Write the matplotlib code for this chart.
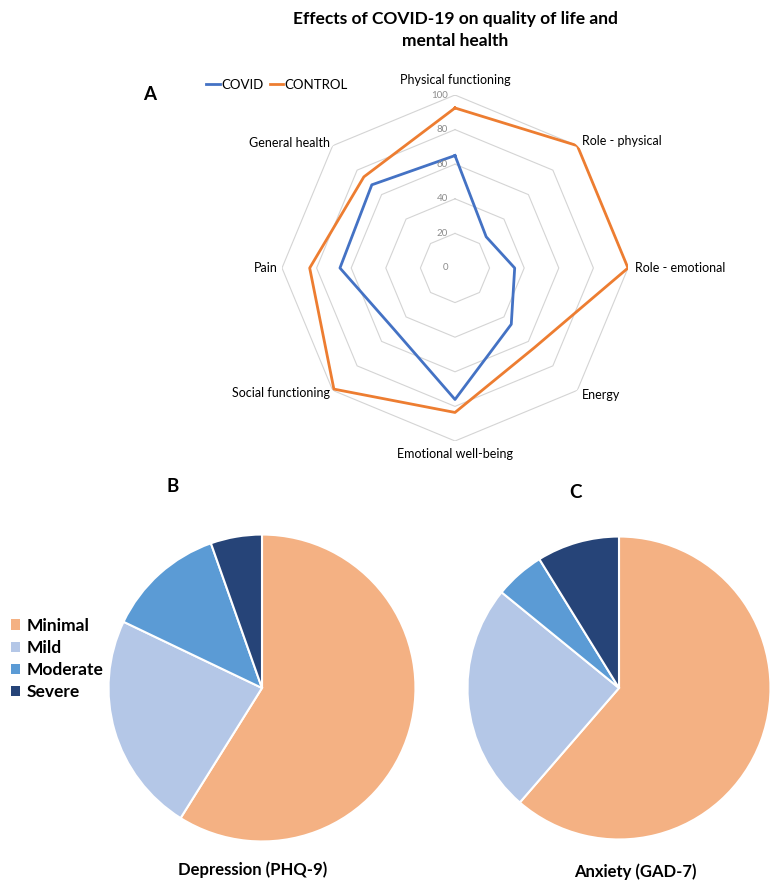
import numpy as np
import matplotlib
matplotlib.use("Agg")
import matplotlib.pyplot as plt
from matplotlib.transforms import offset_copy
from matplotlib.patches import Patch

plt.rcParams['font.family'] = ['Lato', 'DejaVu Sans']

# ---- data ----
categories = ["Physical functioning", "Role - physical", "Role - emotional", "Energy",
              "Emotional well-being", "Social functioning", "Pain", "General health"]
covid = [65, 25.5, 34.5, 46, 76, 50, 66.5, 68]
control = [92.5, 100, 100, 65, 83.5, 99, 84, 74.5]
rings = [20, 40, 60, 80, 100]
ring_labels = ["0", "20", "40", "60", "80", "100"]
ring_values = [0, 20, 40, 60, 80, 100]

severity = ["Minimal", "Mild", "Moderate", "Severe"]
depression = [58.9, 23.2, 12.5, 5.4]
anxiety = [61.3, 24.5, 5.3, 8.8]

colors_sev = ["#F4B183", "#B4C7E7", "#5B9BD5", "#264478"]
c_covid = "#4472C4"
c_control = "#ED7D31"

W, H = 777, 893
fig = plt.figure(figsize=(W / 100, H / 100), dpi=100)

def box(left, top, w, h):
    return [left / W, 1 - (top + h) / H, w / W, h / H]

# ---- radar ----
cx, cy, R = 455, 268, 173
ax = fig.add_axes(box(cx - R, cy - R, 2 * R, 2 * R), projection='polar')
ax.set_theta_zero_location('N')
ax.set_theta_direction(-1)
ax.set_ylim(0, 100)
ax.grid(False)
ax.set_xticks([])
ax.set_yticks([])
ax.spines['polar'].set_visible(False)

n = len(categories)
theta = np.arange(n) * 2 * np.pi / n
theta_c = np.append(theta, theta[0])
for r in rings:
    ax.plot(theta_c, [r] * (n + 1), color="#D4D4D4", lw=0.8, zorder=1)

ax.plot(theta_c, covid + covid[:1], color=c_covid, lw=2.0, zorder=3, label="COVID")
ax.plot(theta_c, control + control[:1], color=c_control, lw=2.0, zorder=3, label="CONTROL")

tr = offset_copy(ax.transData, fig=fig, x=-7, y=0, units='dots')
for v, lab in zip(ring_values, ring_labels):
    ax.text(0, v, lab, transform=tr, ha='right', va='center', fontsize=7, color="#8C8C8C")

for i, (t, cat) in enumerate(zip(theta, categories)):
    deg = np.degrees(t)
    if deg == 0:
        ax.text(t, 105, cat, ha='center', va='bottom', fontsize=9)
    elif deg == 180:
        ax.text(t, 104, cat, ha='center', va='top', fontsize=9)
    elif deg < 180:
        ax.text(t, 104, cat, ha='left', va='center', fontsize=9)
    else:
        ax.text(t, 102.5, cat, ha='right', va='center', fontsize=9)

fig.legend(handles=ax.lines[-2:], labels=["COVID", "CONTROL"], loc='center',
           bbox_to_anchor=(277 / W, 1 - 85 / H), ncol=2, frameon=False,
           handlelength=1.0, handletextpad=0.1, columnspacing=0.5, fontsize=9.5)

fig.text(455 / W, 1 - 30 / H, "Effects of COVID-19 on quality of life and\nmental health",
         ha='center', va='center', fontsize=12.5, fontweight='bold', linespacing=1.4)
fig.text(150 / W, 1 - 95 / H, "A", ha='center', va='center', fontsize=13.5, fontweight='bold')
fig.text(173 / W, 1 - 487 / H, "B", ha='center', va='center', fontsize=13.5, fontweight='bold')
fig.text(575 / W, 1 - 493 / H, "C", ha='center', va='center', fontsize=13.5, fontweight='bold')

# ---- pies ----
def draw_pie(left, top, size, vals):
    a = fig.add_axes(box(left, top, size, size))
    a.pie(vals, colors=colors_sev, startangle=90, counterclock=False,
          wedgeprops=dict(edgecolor='white', linewidth=1.5))
    a.set_xlim(-1.01, 1.01)
    a.set_ylim(-1.01, 1.01)
    a.set_aspect('equal')
    return a

draw_pie(107, 533, 310, depression)
draw_pie(466, 535, 306, anxiety)

fig.text(253 / W, 1 - 870 / H, "Depression (PHQ-9)", ha='center', va='center',
         fontsize=12, fontweight='bold')
fig.text(635 / W, 1 - 872 / H, "Anxiety (GAD-7)", ha='center', va='center',
         fontsize=12, fontweight='bold')

handles = [Patch(facecolor=c, edgecolor='none') for c in colors_sev]
leg = fig.legend(handles=handles, labels=severity, loc='center left',
                 bbox_to_anchor=(-5 / W, 1 - 659 / H), frameon=False,
                 handlelength=0.55, handleheight=0.55, handletextpad=0.35,
                 labelspacing=0.36, prop=dict(size=12.5, weight='bold'))

fig.savefig("out.png", dpi=100)
